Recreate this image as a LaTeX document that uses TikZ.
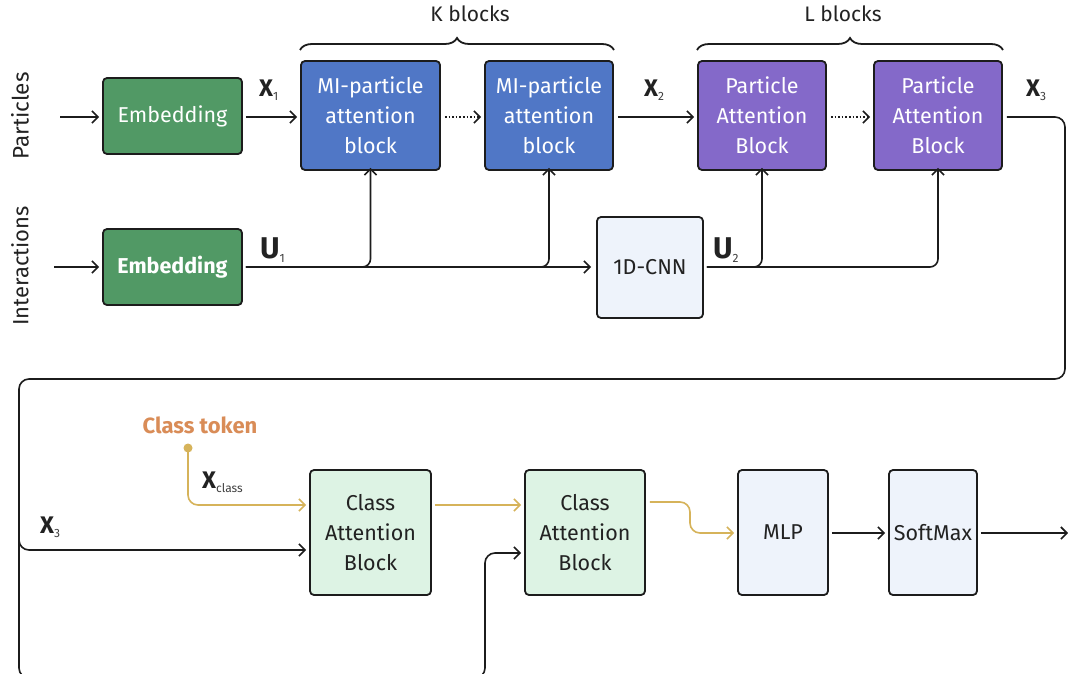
\documentclass[tikz,border=0pt]{standalone}
\usepackage{fontspec}
\setmainfont{Fira Sans}
\usetikzlibrary{arrows.meta,decorations.pathreplacing,calc}
\definecolor{embg}{HTML}{519965}
\definecolor{miblue}{HTML}{5077C6}
\definecolor{pabpurple}{HTML}{8469C9}
\definecolor{lightblue}{HTML}{EEF3FB}
\definecolor{lightgreen}{HTML}{DDF3E4}
\definecolor{goldc}{HTML}{D6B35A}
\definecolor{orangec}{HTML}{D98C57}
\definecolor{edgec}{HTML}{1C1C1C}
\definecolor{txt}{HTML}{222222}
\tikzset{
  box/.style={draw=edgec, line width=1.8pt, rounded corners=4pt, inner sep=0pt, align=center,
     font=\fontsize{21.5}{30}\selectfont},
  darkbox/.style={box, text=white},
  arr/.style={line width=1.6pt, draw=edgec, -{Straight Barb[length=6pt,width=12pt,line width=1.6pt]}},
  garr/.style={line width=1.6pt, draw=goldc, -{Straight Barb[length=6pt,width=12pt,line width=1.6pt]}},
  lbl/.style={text=txt, inner sep=0pt},
  brc/.style={line width=1.8pt, draw=edgec, decorate, decoration={brace, amplitude=12pt, aspect=0.5}},
}
\newcommand{\bigX}[1]{{\fontsize{24}{24}\selectfont\bfseries #1}}
\newcommand{\subsc}[1]{\raisebox{-4pt}{\fontsize{12}{12}\selectfont\color{black!75}#1}}
\begin{document}
\begin{tikzpicture}[x=1pt,y=-1pt]
\useasboundingbox[fill=white] (0,0) rectangle (1068,674);
% side labels
\node[lbl, rotate=90, font=\fontsize{22.5}{22}\selectfont] (partl) at (20,116) {Particles};
\node[lbl, rotate=90, font=\fontsize{22}{22}\selectfont] (interl) at (20,266) {Interactions};
% top row
\node[darkbox, fill=embg, minimum width=139pt, minimum height=76pt] (emb1) at (172.5,116) {\raisebox{-2pt}{Embedding}};
\node[darkbox, fill=embg, minimum width=139pt, minimum height=76pt, font=\fontsize{21.5}{30}\selectfont\bfseries] (emb2) at (172.5,267) {\raisebox{-2pt}{Embedding}};
\node[darkbox, fill=miblue, minimum width=139pt, minimum height=109pt] (mi1) at (370.5,115.5) {MI-particle\\attention\\block};
\node[darkbox, fill=miblue, minimum width=128pt, minimum height=109pt] (mi2) at (549,115.5) {MI-particle\\attention\\block};
\node[darkbox, fill=pabpurple, minimum width=128pt, minimum height=109pt] (pab1) at (762,115.5) {Particle\\Attention\\Block};
\node[darkbox, fill=pabpurple, minimum width=128pt, minimum height=109pt] (pab2) at (938,115.5) {Particle\\Attention\\Block};
\node[box, fill=lightblue, text=txt, minimum width=106pt, minimum height=101pt] (cnn) at (650,267.5) {\raisebox{-2pt}{1D-CNN}};
% bottom row
\node[box, fill=lightgreen, text=txt, minimum width=121pt, minimum height=125pt] (cab1) at (370.5,532.5) {Class\\Attention\\Block};
\node[box, fill=lightgreen, text=txt, minimum width=120pt, minimum height=125pt] (cab2) at (585,532.5) {Class\\Attention\\Block};
\node[box, fill=lightblue, text=txt, minimum width=90pt, minimum height=125pt] (mlp) at (783,532.5) {\raisebox{-2pt}{MLP}};
\node[box, fill=lightblue, text=txt, minimum width=88pt, minimum height=125pt] (sm) at (933,532.5) {\raisebox{-2pt}{SoftMax}};
% braces
\coordinate (kb1) at (300,50); \coordinate (kb2) at (614,50);
\coordinate (lb1) at (697,50); \coordinate (lb2) at (1003,50);
\draw[brc] (kb1) -- (kb2);
\draw[brc] (lb1) -- (lb2);
\node[lbl, font=\fontsize{21}{21}\selectfont] (klbl) at (470,14) {K blocks};
\node[lbl, font=\fontsize{21}{21}\selectfont] (llbl) at (843,14) {L blocks};
% inputs
\coordinate (pin) at (60,117);
\coordinate (iin) at (54,267);
\draw[arr] (pin) -- ([xshift=-3pt]emb1.west |- pin);
\draw[arr] (iin) -- ([xshift=-3pt]emb2.west |- iin);
% top connectors
\draw[arr] ([xshift=3pt]emb1.east |- pin) -- ([xshift=-3pt]mi1.west |- pin);
\draw[arr, dotted] ([xshift=4pt]mi1.east |- pin) -- ([xshift=-3pt]mi2.west |- pin);
\draw[arr] ([xshift=4pt]mi2.east |- pin) -- ([xshift=-3pt]pab1.west |- pin);
\draw[arr, dotted] ([xshift=4pt]pab1.east |- pin) -- ([xshift=-3pt]pab2.west |- pin);
% interaction connectors
\draw[arr] ([xshift=3pt]emb2.east |- iin) -- ([xshift=-5pt]cnn.west |- iin);
\draw[arr, rounded corners=8pt] ([xshift=3pt]emb2.east |- iin) -- (mi1.south |- iin) -- ([yshift=3pt]mi1.south);
\draw[arr, rounded corners=8pt] ([xshift=3pt]emb2.east |- iin) -- (mi2.south |- iin) -- ([yshift=3pt]mi2.south);
\draw[arr, rounded corners=8pt] ([xshift=3pt]cnn.east |- iin) -- (pab1.south |- iin) -- ([yshift=3pt]pab1.south);
\draw[arr, rounded corners=8pt] ([xshift=3pt]cnn.east |- iin) -- (pab2.south |- iin) -- ([yshift=3pt]pab2.south);
% labels top
\node[lbl, anchor=base west] (x1) at (259,97) {\bigX{X}\subsc{1}};
\node[lbl, anchor=base west] (x2) at (644,97) {\bigX{X}\subsc{2}};
\node[lbl, anchor=base west] (x3t) at (1026,97) {\bigX{X}\subsc{3}};
\node[lbl, anchor=base west] (u1) at (260,258) {{\fontsize{30}{30}\selectfont\bfseries U}\subsc{1}};
\node[lbl, anchor=base west] (u2) at (713,258) {{\fontsize{30}{30}\selectfont\bfseries U}\subsc{2}};
% X3 loop
\coordinate (r1) at (1065,117);
\coordinate (r2) at (1065,379);
\coordinate (l1) at (19,379);
\coordinate (l2) at (19,550);
\coordinate (l3) at (19,678);
\coordinate (b1) at (485,678);
\coordinate (b2) at (485,553);
\draw[arr, rounded corners=10pt] ([xshift=4pt]pab2.east |- pin) -- (r1) -- (r2) -- (l1) -- (l2) -- ([xshift=-3pt]cab1.west |- l2);
\draw[arr, rounded corners=10pt] (19,520) -- (l3) -- (b1) -- (b2) -- ([xshift=-3pt]cab2.west |- b2);
\node[lbl, anchor=base west] (x3b) at (40,533) {\bigX{X}\subsc{3}};
% class token
\node[lbl, text=orangec, font=\fontsize{22}{22}\selectfont\bfseries] (ctok) at (200,425) {Class token};
\coordinate (dot) at (188,448);
\fill[goldc] (dot) circle (4.5pt);
\draw[garr, rounded corners=10pt] (dot) -- (188,505) -- ([xshift=-3pt]cab1.west |- 0,505);
\node[lbl, anchor=base west] (xc) at (202,488) {\bigX{X}\subsc{class}};
\draw[garr] ([xshift=3pt]cab1.east |- 0,505) -- ([xshift=-3pt]cab2.west |- 0,505);
\draw[garr, rounded corners=10pt] ([xshift=4pt]cab2.east |- 0,502) -- (690,502) -- (690,533) -- ([xshift=-3pt]mlp.west |- 0,533);
\draw[arr] ([xshift=3pt]mlp.east |- 0,533) -- ([xshift=-3pt]sm.west |- 0,533);
\coordinate (out) at (1068,533);
\draw[arr] ([xshift=3pt]sm.east |- 0,533) -- (out);
\end{tikzpicture}
\end{document}
